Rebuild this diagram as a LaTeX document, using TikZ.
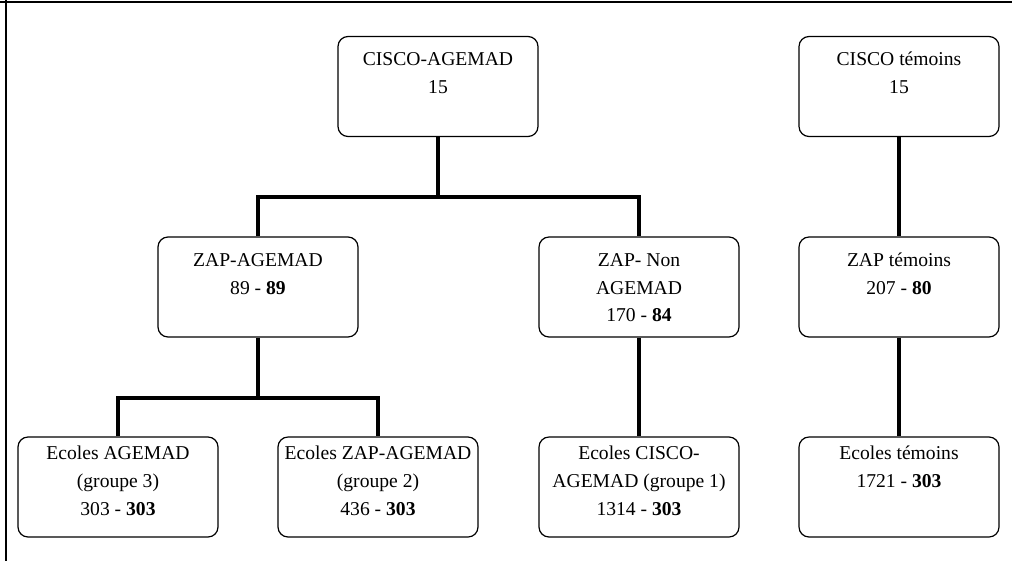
\documentclass[tikz,border=0pt]{standalone}
\usepackage{fontspec}
\setmainfont{Liberation Serif}
\begin{document}
\begin{tikzpicture}[x=0.75pt,y=-0.75pt,
  box/.style={draw,line width=0.9pt,rounded corners=7.5pt,minimum width=150pt,minimum height=75pt,inner sep=0pt},
  txt/.style={anchor=north,align=center,inner sep=0pt,font=\fontsize{14.7pt}{20.8pt}\selectfont},
  link/.style={line width=2.5pt},
  frame/.style={line width=1.6pt,black}]
\useasboundingbox (0,0) rectangle (1012,561);
\draw[frame] (0,2) -- (1012,2);
\draw[frame] (6,0) -- (6,561);
% boxes
\node[box] (ciscoA) at (438,86.5) {};
\node[box] (ciscoT) at (899,86.5) {};
\node[box] (zapA) at (258,287) {};
\node[box] (zapN) at (639,287) {};
\node[box] (zapT) at (899,287) {};
\node[box] (ecA) at (118,487) {};
\node[box] (ecZ) at (378,487) {};
\node[box] (ecC) at (639,487) {};
\node[box] (ecT) at (899,487) {};
% texts
\node[txt] (ciscoA-t) at ([yshift=-7.8pt]ciscoA.north) {\strut CISCO-AGEMAD\\15};
\node[txt] (ciscoT-t) at ([yshift=-7.8pt]ciscoT.north) {\strut CISCO témoins\\15};
\node[txt] (zapA-t) at ([yshift=-7.8pt]zapA.north) {\strut ZAP-AGEMAD\\89 - \textbf{89}};
\node[txt] (zapN-t) at ([yshift=-7.8pt]zapN.north) {\strut ZAP- Non\\AGEMAD\\170 - \textbf{84}};
\node[txt] (zapT-t) at ([yshift=-7.8pt]zapT.north) {\strut ZAP témoins\\207 - \textbf{80}};
\node[txt] (ecA-t) at ([yshift=-2.6pt]ecA.north) {\strut Ecoles AGEMAD\\(groupe 3)\\303 - \textbf{303}};
\node[txt] (ecZ-t) at ([yshift=-2.6pt]ecZ.north) {\strut Ecoles ZAP-AGEMAD\\(groupe 2)\\436 - \textbf{303}};
\node[txt] (ecC-t) at ([yshift=-2.6pt]ecC.north) {\strut Ecoles CISCO-\\AGEMAD (groupe 1)\\1314 - \textbf{303}};
\node[txt] (ecT-t) at ([yshift=-2.6pt]ecT.north) {\strut Ecoles témoins\\1721 - \textbf{303}};
% connectors
\coordinate (j1) at (438,197);
\coordinate (j2) at (258,398);
\draw[link] (ciscoA.south) -- (j1);
\draw[link] (zapA.north) |- (j1) -| (zapN.north);
\draw[link] (zapA.south) -- (j2);
\draw[link] (ecA.north) |- (j2) -| (ecZ.north);
\draw[link] (zapN.south) -- (ecC.north);
\draw[link] (ciscoT.south) -- (zapT.north);
\draw[link] (zapT.south) -- (ecT.north);
\end{tikzpicture}
\end{document}
